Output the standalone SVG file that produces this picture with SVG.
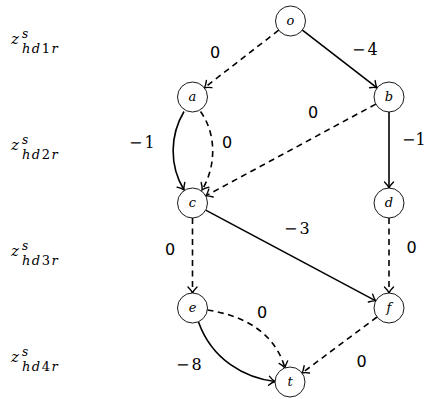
<svg xmlns="http://www.w3.org/2000/svg" width="427" height="399" viewBox="0 0 427 399">
<defs>
<marker id="arr" markerUnits="userSpaceOnUse" markerWidth="14" markerHeight="14" viewBox="-9 -7 11 14" refX="0" refY="0" orient="auto" overflow="visible">
<path d="M -6 -4.5 Q -2.5 -1 0 0 Q -2.5 1 -6 4.5" fill="none" stroke="#000" stroke-width="1.4" stroke-linecap="round"/>
</marker>
</defs>
<style>
.node circle{fill:#fff;stroke:#000;stroke-width:0.9}
.node text{font-family:'DejaVu Serif',serif;font-style:italic;font-size:13px;text-anchor:middle}
.e{fill:none;stroke:#000;stroke-width:1.6;marker-end:url(#arr)}
.d{stroke-dasharray:6 4.5}
.z text{font-family:'DejaVu Serif',serif;font-style:italic}
.sub{font-size:13px;letter-spacing:1.5px}
.w0{font-family:'DejaVu Sans',sans-serif;font-size:16px;text-anchor:middle}
.wn{font-family:'DejaVu Serif',serif;font-size:16px;letter-spacing:2px}
</style>
<g id="row-labels">
<g class="z"><text x="11" y="44" font-size="15">z</text><text x="22" y="38" font-size="12">s</text><text class="sub" x="22" y="53">hd<tspan font-style="normal">1</tspan>r</text></g>
<g class="z"><text x="11" y="150" font-size="15">z</text><text x="22" y="144" font-size="12">s</text><text class="sub" x="22" y="159">hd<tspan font-style="normal">2</tspan>r</text></g>
<g class="z"><text x="11" y="256" font-size="15">z</text><text x="22" y="250" font-size="12">s</text><text class="sub" x="22" y="265">hd<tspan font-style="normal">3</tspan>r</text></g>
<g class="z"><text x="11" y="362" font-size="15">z</text><text x="22" y="356" font-size="12">s</text><text class="sub" x="22" y="371">hd<tspan font-style="normal">4</tspan>r</text></g>
</g>
<g id="edges">
<path class="e d" d="M 278.7 30.2 L 204.4 87.8"/>
<path class="e" d="M 302.4 30.2 L 377.1 87.8"/>
<path class="e" d="M 184 111.5 C 170 135 169 165 184 190"/>
<path class="e d" d="M 200.5 111.5 C 216 133 217 165 202 190"/>
<path class="e d" d="M 375.8 104.1 L 205.7 195.9"/>
<path class="e" d="M 389 112 L 389 188"/>
<path class="e d" d="M 192.5 218 L 192.5 293"/>
<path class="e" d="M 205.7 210.1 L 375.8 300.9"/>
<path class="e d" d="M 389 218 L 389 293"/>
<path class="e d" d="M 207.5 310 C 240 315 274 330 285 368"/>
<path class="e" d="M 198.5 322 C 212 360 245 378 275 381.5"/>
<path class="e d" d="M 377 317 L 302 373"/>
</g>
<g id="edge-labels">
<text class="w0" x="215" y="58">0</text>
<text class="wn" x="352" y="55">−4</text>
<text class="w0" x="313" y="118">0</text>
<text class="wn" x="129" y="148">−1</text>
<text class="w0" x="227" y="148">0</text>
<text class="wn" x="402" y="145" style="letter-spacing:0">−1</text>
<text class="wn" x="284" y="234">−3</text>
<text class="w0" x="170" y="255">0</text>
<text class="w0" x="411.5" y="253">0</text>
<text class="w0" x="262" y="318">0</text>
<text class="wn" x="176" y="370">−8</text>
<text class="w0" x="361.5" y="366.5">0</text>
</g>
<g id="node-o" class="node"><circle cx="290.5" cy="21" r="15"/><text x="290.5" y="25">o</text></g>
<g id="node-a" class="node"><circle cx="192.5" cy="97" r="15"/><text x="192.5" y="101">a</text></g>
<g id="node-b" class="node"><circle cx="389" cy="97" r="15"/><text x="389" y="101">b</text></g>
<g id="node-c" class="node"><circle cx="192.5" cy="203" r="15"/><text x="192.5" y="207">c</text></g>
<g id="node-d" class="node"><circle cx="389" cy="203" r="15"/><text x="389" y="207">d</text></g>
<g id="node-e" class="node"><circle cx="192.5" cy="308" r="15"/><text x="192.5" y="312">e</text></g>
<g id="node-f" class="node"><circle cx="389" cy="308" r="15"/><text x="389" y="312">f</text></g>
<g id="node-t" class="node"><circle cx="290" cy="382" r="15"/><text x="290" y="386">t</text></g>
</svg>
